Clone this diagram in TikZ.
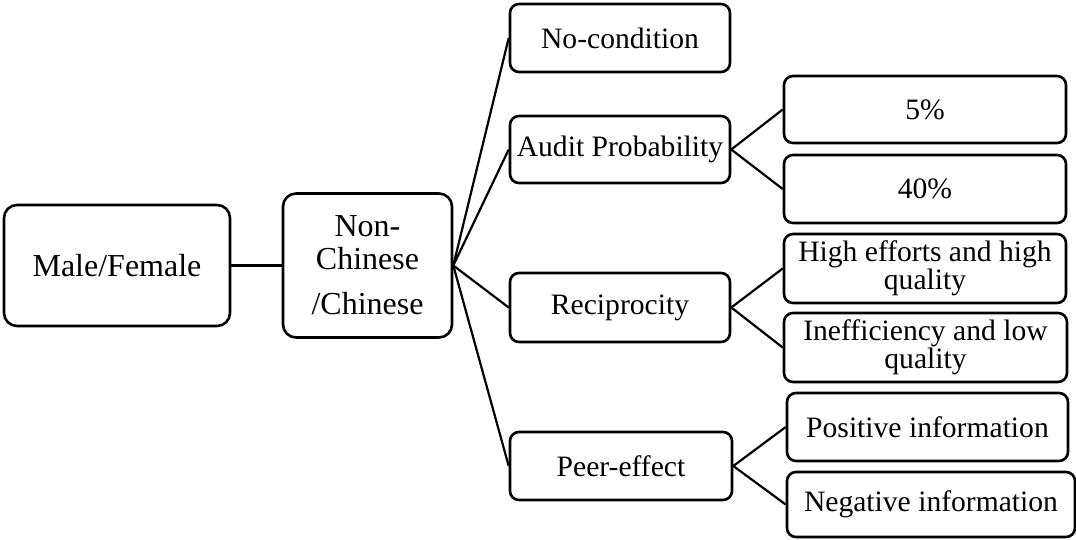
\documentclass[tikz,border=0pt]{standalone}
\usepackage{fontspec}
\setmainfont{Liberation Serif}
\usepackage{tikz}
\usetikzlibrary{positioning}
\tikzset{round box/.style={rectangle,draw,rounded corners=9pt,line width=2.6pt,align=center,inner sep=0pt,font=\fontsize{29.6}{26.5}\selectfont, color=black}}
\tikzset{big box/.style={round box,rounded corners=13pt,font=\fontsize{32}{33}\selectfont}}
\tikzset{link/.style={line width=2.2pt,color=black}}

\begin{document}
\begin{tikzpicture}[x=1pt,y=-1pt]
        \useasboundingbox (0,0) rectangle (1076,539);

        \node [big box, minimum width=226pt, minimum height=121pt] (gender) at (117,265.5) {Male/Female};
        \node [big box, minimum width=169pt, minimum height=144pt] (nation) at (367.5,265.5) {Non-\\Chinese\\[12pt]/Chinese};

        \node [round box, minimum width=220pt, minimum height=68pt] (nocond) at (620,38) {No-condition};
        \node [round box, minimum width=220pt, minimum height=67pt] (audit) at (620,149.5) {Audit Probability};
        \node [round box, minimum width=220pt, minimum height=69pt] (recip) at (620,307.5) {Reciprocity};
        \node [round box, minimum width=222pt, minimum height=68pt] (peer) at (621,466) {Peer-effect};

        \node [round box, minimum width=282pt, minimum height=67pt] (p5) at (925,109.5) {5\%};
        \node [round box, minimum width=282pt, minimum height=68pt] (p40) at (925,189) {40\%};
        \node [round box, minimum width=282pt, minimum height=69pt] (high) at (925,268.5) {High efforts and high\\quality};
        \node [round box, minimum width=283pt, minimum height=69pt] (ineff) at (925.5,347.5) {Inefficiency and low\\quality};
        \node [round box, minimum width=281pt, minimum height=68pt] (pos) at (927.5,427) {Positive information};
        \node [round box, minimum width=288pt, minimum height=65pt] (neg) at (931,504.5) {Negative information};

        \draw [link] (gender.east) to (nation.west);
        \foreach \u in {nocond,audit,recip,peer}{
      		\draw [link] (nation.east) to (\u.west);
        }
        \foreach \u/\v in {audit/p5,audit/p40,recip/high,recip/ineff,peer/pos,peer/neg}{
      		\draw [link] (\u.east) to (\v.west);
        }
        \end{tikzpicture}
\end{document}
